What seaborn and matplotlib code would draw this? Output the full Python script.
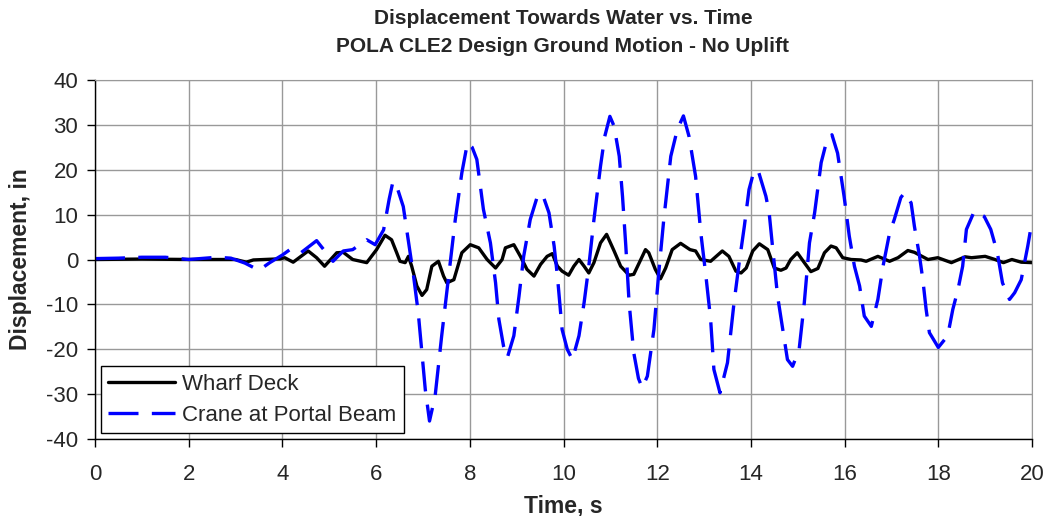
import numpy as np
import pandas as pd
import seaborn as sns
import matplotlib.pyplot as plt

# readings (time in s, displacement in inches)
wharf_t = [0, 1.0, 2.0, 3.0, 3.23, 3.38, 3.95, 4.05, 4.23, 4.55, 4.73, 4.9, 5.16, 5.3,
           5.5, 5.8, 6.01, 6.19, 6.33, 6.44, 6.51, 6.62, 6.69, 6.76, 6.87, 6.98, 7.08,
           7.19, 7.33, 7.44, 7.51, 7.66, 7.83, 8.01, 8.19, 8.37, 8.55, 8.69, 8.76, 8.94,
           9.08, 9.22, 9.37, 9.51, 9.65, 9.76, 9.87, 9.97, 10.11, 10.22, 10.33, 10.44,
           10.54, 10.65, 10.79, 10.92, 11.08, 11.22, 11.4, 11.5, 11.65, 11.75, 11.82,
           11.96, 12.07, 12.18, 12.32, 12.5, 12.7, 12.82, 12.93, 13.14, 13.39, 13.53,
           13.68, 13.79, 13.9, 14.04, 14.18, 14.36, 14.5, 14.64, 14.75, 14.85, 14.99,
           15.14, 15.28, 15.43, 15.57, 15.71, 15.82, 15.96, 16.14, 16.35, 16.46, 16.71,
           16.96, 17.14, 17.35, 17.49, 17.78, 17.99, 18.28, 18.57, 18.71, 19.0, 19.21,
           19.39, 19.57, 19.77, 20.0]
wharf_d = [0, 0.1, 0, 0, -0.6, -0.1, 0.15, 0.4, -0.6, 1.9, 0.4, -1.5, 1.5, 1.6,
           0, -0.7, 2.2, 5.4, 4.4, 1.5, -0.4, -0.7, 0.7, -1.5, -5.9, -8.0, -6.7,
           -1.5, -0.4, -3.7, -5.2, -4.5, 1.5, 3.3, 2.6, 0, -1.9, 0, 2.6, 3.3,
           0.7, -2.2, -3.7, -1.1, 0.7, 1.3, -1.5, -2.6, -3.5, -1.5, 0, -1.5,
           -3.0, -0.7, 3.7, 5.6, 1.9, -1.5, -3.5, -3.3, 0, 2.2, 1.5,
           -2.2, -4.3, -1.9, 2.2, 3.6, 2.2, 1.9, 0, -0.4, 1.9, 0.7,
           -2.6, -3.0, -1.9, 1.9, 3.5, 2.2, -1.9, -2.4, -1.9, 0, 1.5,
           -0.7, -2.7, -2.0, 1.5, 3.0, 2.6, 0.4, 0, -0.1, -0.4, 0.7,
           -0.4, 0.4, 2.0, 1.6, 0, 0.4, -0.7, 0.6, 0.4, 0.7, 0,
           -0.7, 0, -0.6, -0.7]

crane_t = [0, 0.5, 1.0, 1.5, 2.0, 2.6, 2.9, 3.2, 3.5, 3.73, 4.0, 4.16, 4.37, 4.73,
           5.08, 5.3, 5.5, 5.8, 5.98, 6.16, 6.28, 6.36, 6.45, 6.58, 6.8, 6.9, 7.05, 7.14, 7.26,
           7.4, 7.55, 7.69, 7.83, 7.95, 8.05, 8.15, 8.29, 8.44, 8.55, 8.62, 8.72, 8.8, 8.94,
           9.05, 9.15, 9.29, 9.44, 9.55, 9.69, 9.8, 9.87, 9.97, 10.08, 10.19, 10.33,
           10.44, 10.54, 10.65, 10.79, 10.88, 10.99, 11.08, 11.19, 11.26, 11.33, 11.4,
           11.5, 11.6, 11.68, 11.79, 11.93, 12.04, 12.14, 12.29, 12.43, 12.56, 12.68, 12.82,
           12.93, 13.04, 13.14, 13.21, 13.34, 13.5, 13.64, 13.75, 13.86, 13.96, 14.06, 14.15,
           14.32, 14.39, 14.46, 14.57, 14.68, 14.78, 14.89, 15.03, 15.14, 15.25, 15.36,
           15.5, 15.62, 15.73, 15.85, 15.99, 16.1, 16.21, 16.32, 16.42, 16.57, 16.71, 16.82,
           16.96, 17.06, 17.2, 17.28, 17.42, 17.49, 17.6, 17.67, 17.74, 17.81, 18.0, 18.2,
           18.31, 18.42, 18.52, 18.6, 18.77, 18.98, 19.12, 19.26, 19.37, 19.52, 19.63,
           19.77, 19.91, 20.0]
crane_d = [0.2, 0.3, 0.5, 0.5, 0, 0.5, 0.3, -0.8, -2.4, -0.7, 1.0, 2.2, 1.3, 4.2,
           -0.4, 1.9, 2.2, 4.4, 3.3, 6.6, 13.5, 17.4, 16.0, 11.8, -3.7, -11.9, -29, -36, -30.4,
           -17, -3.7, 8.9, 19.3, 26, 25.0, 22.3, 11.2, 3.7, -5.2, -13.3, -19.3, -21.9, -17,
           -8.2, 0.7, 8.9, 14, 14.6, 10.4, 3, -3.7, -15.6, -20, -22.3, -17,
           -9.6, -1.5, 8.9, 20.8, 27.4, 31.9, 29.7, 23, 14, 3, -9.6,
           -20.8, -26.5, -28.6, -26, -15.6, -2.2, 8.9, 23, 29, 32, 27.4, 18.5,
           6, -3.7, -13.3, -24.5, -29.7, -23, -9.6, -0.7, 7.4, 15.6, 19.5, 20,
           14.1, 10.4, 3, -8.2, -15.6, -22.3, -23.8, -20, -9.6, 3.7, 10.4,
           21.6, 26.5, 27.8, 23.7, 14, 5.2, -1.5, -5.9, -12.6, -14.9, -8.9, -1.5,
           5.9, 8.9, 13.8, 14.9, 12.6, 7.4, 0.7, -4.5, -11.1, -16.3, -19.6, -17,
           -11.1, -6.7, -1.5, 6.7, 10.8, 9.6, 6.7, 1.5, -5.2, -8.9, -7.4,
           -4.5, 3, 8.5]

series_names = ["Wharf Deck", "Crane at Portal Beam"]

df = pd.concat([
    pd.DataFrame({"time": wharf_t, "disp": wharf_d, "series": series_names[0]}),
    pd.DataFrame({"time": crane_t, "disp": crane_d, "series": series_names[1]}),
], ignore_index=True)

sns.set_style("white")
plt.rcParams['font.family'] = ['Liberation Sans', 'DejaVu Sans']
plt.rcParams['axes.unicode_minus'] = False

fig = plt.figure(figsize=(10.46, 5.16), dpi=100)
ax = fig.add_axes([95 / 1046, 1 - 439 / 516, (1032 - 95) / 1046, (439 - 80) / 516])

sns.lineplot(data=df, x="time", y="disp", hue="series", style="series",
             hue_order=series_names, style_order=series_names,
             palette={series_names[0]: "black", series_names[1]: "#0000ff"},
             dashes={series_names[0]: "", series_names[1]: (9, 4)},
             linewidth=2.4, estimator=None, sort=False, ax=ax)

ax.set_xlim(0, 20)
ax.set_ylim(-40, 40)
ax.set_xticks(np.arange(0, 21, 2))
ax.set_yticks(np.arange(-40, 41, 10))
ax.grid(True, color="#999999", linewidth=1.0)
ax.set_axisbelow(True)
for s in ["top", "right"]:
    ax.spines[s].set_color("#999999")
for s in ["left", "bottom"]:
    ax.spines[s].set_color("black")
    ax.spines[s].set_linewidth(1.0)
ax.tick_params(axis="both", direction="out", length=6, width=1, labelsize=16,
               color="black", left=True, bottom=True)
ax.tick_params(axis="x", pad=12)
ax.tick_params(axis="y", pad=6)

ax.set_xlabel("Time, s", fontsize=16.5, fontweight="bold", labelpad=7)
ax.set_ylabel("Displacement, in", fontsize=16.5, fontweight="bold", labelpad=10)
fig.suptitle("Displacement Towards Water vs. Time\nPOLA CLE2 Design Ground Motion - No Uplift",
             x=563 / 1046, y=1 - 9 / 516, va="top", fontsize=15, fontweight="bold",
             linespacing=1.6)

leg = ax.legend(loc="lower left", fontsize=16, frameon=True, fancybox=False,
                edgecolor="black", handlelength=3.0, borderaxespad=0.25,
                labelspacing=0.45, borderpad=0.35, handletextpad=0.3)
leg.get_frame().set_linewidth(1.0)
leg.get_frame().set_alpha(1)

fig.savefig("out.png", dpi=100)
